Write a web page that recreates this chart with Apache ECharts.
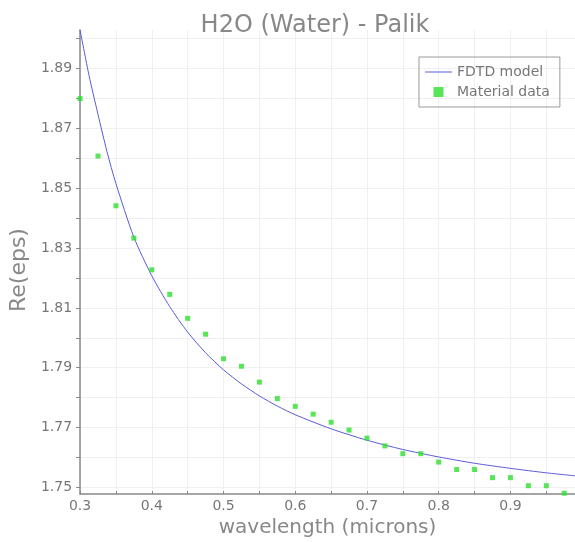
<!DOCTYPE html>
<html>
<head>
<meta charset="utf-8">
<script src="https://cdn.jsdelivr.net/npm/echarts@6/dist/echarts.min.js"></script>
<style>
  html, body { margin: 0; padding: 0; background: #fff; }
  #chart { width: 575px; height: 543px; }
</style>
</head>
<body>
<div id="chart"></div>
<script>
// FDTD model curve
var modelWavelength = [0.3, 0.3125, 0.325, 0.3375, 0.35, 0.375, 0.4, 0.425, 0.45, 0.475, 0.5, 0.525, 0.55, 0.575, 0.6, 0.65, 0.7, 0.75, 0.8, 0.85, 0.9, 0.95, 0.99];
var modelEps = [1.9028, 1.8876, 1.8746, 1.8622, 1.8515, 1.8336, 1.8207, 1.8104, 1.8019, 1.7950, 1.7893, 1.7846, 1.7806, 1.7772, 1.7743, 1.7696, 1.7658, 1.7627, 1.7602, 1.7581, 1.7564, 1.7549, 1.7539];

// Palik material data
var dataWavelength = [0.3, 0.325, 0.35, 0.375, 0.4, 0.425, 0.45, 0.475, 0.5, 0.525, 0.55, 0.575, 0.6, 0.625, 0.65, 0.675, 0.7, 0.725, 0.75, 0.775, 0.8, 0.825, 0.85, 0.875, 0.9, 0.925, 0.95, 0.975];
var dataEps = [1.8799, 1.8607, 1.8441, 1.8333, 1.8227, 1.8145, 1.8065, 1.8012, 1.7930, 1.7905, 1.7852, 1.7797, 1.7771, 1.7745, 1.7718, 1.7692, 1.7665, 1.7639, 1.7613, 1.7613, 1.7585, 1.7560, 1.7560, 1.7533, 1.7533, 1.7506, 1.7506, 1.7481];

// ticks and labels
var xTicks = [0.3, 0.35, 0.4, 0.45, 0.5, 0.55, 0.6, 0.65, 0.7, 0.75, 0.8, 0.85, 0.9, 0.95];
var xLabels = [0.3, 0.4, 0.5, 0.6, 0.7, 0.8, 0.9];
var yTicks = [1.75, 1.76, 1.77, 1.78, 1.79, 1.80, 1.81, 1.82, 1.83, 1.84, 1.85, 1.86, 1.87, 1.88, 1.89, 1.90];
var yLabels = [1.75, 1.77, 1.79, 1.81, 1.83, 1.85, 1.87, 1.89];

function initChart() {
  var myChart = echarts.init(document.getElementById('chart'));
  var font = 'DejaVu Sans';
  var option = {
    animation: false,
    title: {
      text: 'H2O (Water) - Palik',
      left: 310,
      textAlign: 'center',
      top: 9,
      textStyle: { fontFamily: font, fontSize: 24, fontWeight: 'normal', color: '#888' }
    },
    legend: {
      orient: 'vertical',
      left: 419,
      top: 57,
      padding: [8, 10, 8, 6],
      itemGap: 6,
      itemWidth: 27,
      itemHeight: 10,
      borderColor: '#999',
      borderWidth: 1,
      textStyle: { fontFamily: font, fontSize: 14, color: '#777' },
      data: [
        { name: 'FDTD model', icon: 'path://M0,4.5 L27,4.5 L27,5.5 L0,5.5 Z' },
        { name: 'Material data', icon: 'path://M0,0 L9,0 L9,9 L0,9 Z' }
      ]
    },
    grid: { left: 79, right: 0, top: 30, bottom: 46, containLabel: false },
    xAxis: {
      type: 'value',
      min: 0.3,
      max: 0.99,
      name: 'wavelength (microns)',
      nameLocation: 'middle',
      nameGap: 23,
      nameTextStyle: { fontFamily: font, fontSize: 20, color: '#888' },
      axisLine: { show: true, lineStyle: { color: '#888', width: 1.5 } },
      axisTick: { show: true, inside: true, length: 3, customValues: xTicks, lineStyle: { color: '#888' } },
      axisLabel: {
        customValues: xLabels,
        margin: 5,
        fontFamily: font, fontSize: 14, color: '#777',
        formatter: function (v) { return String(Math.round(v * 10) / 10); }
      },
      splitLine: { show: true, lineStyle: { color: '#f0f0f0', width: 1 } }
    },
    yAxis: {
      type: 'value',
      min: 1.7478,
      max: 1.9028,
      name: 'Re(eps)',
      nameLocation: 'middle',
      nameGap: 44,
      nameTextStyle: { fontFamily: font, fontSize: 22, color: '#888', padding: [0, 16, 0, 0] },
      axisLine: { show: true, lineStyle: { color: '#888', width: 1.5 } },
      axisTick: { show: true, length: 4, customValues: yTicks, lineStyle: { color: '#888' } },
      axisLabel: {
        customValues: yLabels,
        margin: 8,
        fontFamily: font, fontSize: 14, color: '#777',
        formatter: function (v) { return v.toFixed(2); }
      },
      splitLine: { show: true, lineStyle: { color: '#f0f0f0', width: 1 } }
    },
    series: [
      {
        name: 'FDTD model',
        type: 'line',
        smooth: 0.25,
        symbol: 'none',
        data: modelWavelength.map(function (w, i) { return [w, modelEps[i]]; }),
        lineStyle: { color: '#5a5ad8', width: 1 },
        itemStyle: { color: '#5a5ad8' },
        z: 3
      },
      {
        name: 'Material data',
        type: 'scatter',
        symbol: 'rect',
        symbolSize: 5,
        data: dataWavelength.map(function (w, i) { return [w, dataEps[i]]; }),
        itemStyle: { color: '#2ee02e' },
        z: 4
      }
    ]
  };
  myChart.setOption(option);
}

document.addEventListener('DOMContentLoaded', function () {
  initChart();
});
</script>
</body>
</html>
